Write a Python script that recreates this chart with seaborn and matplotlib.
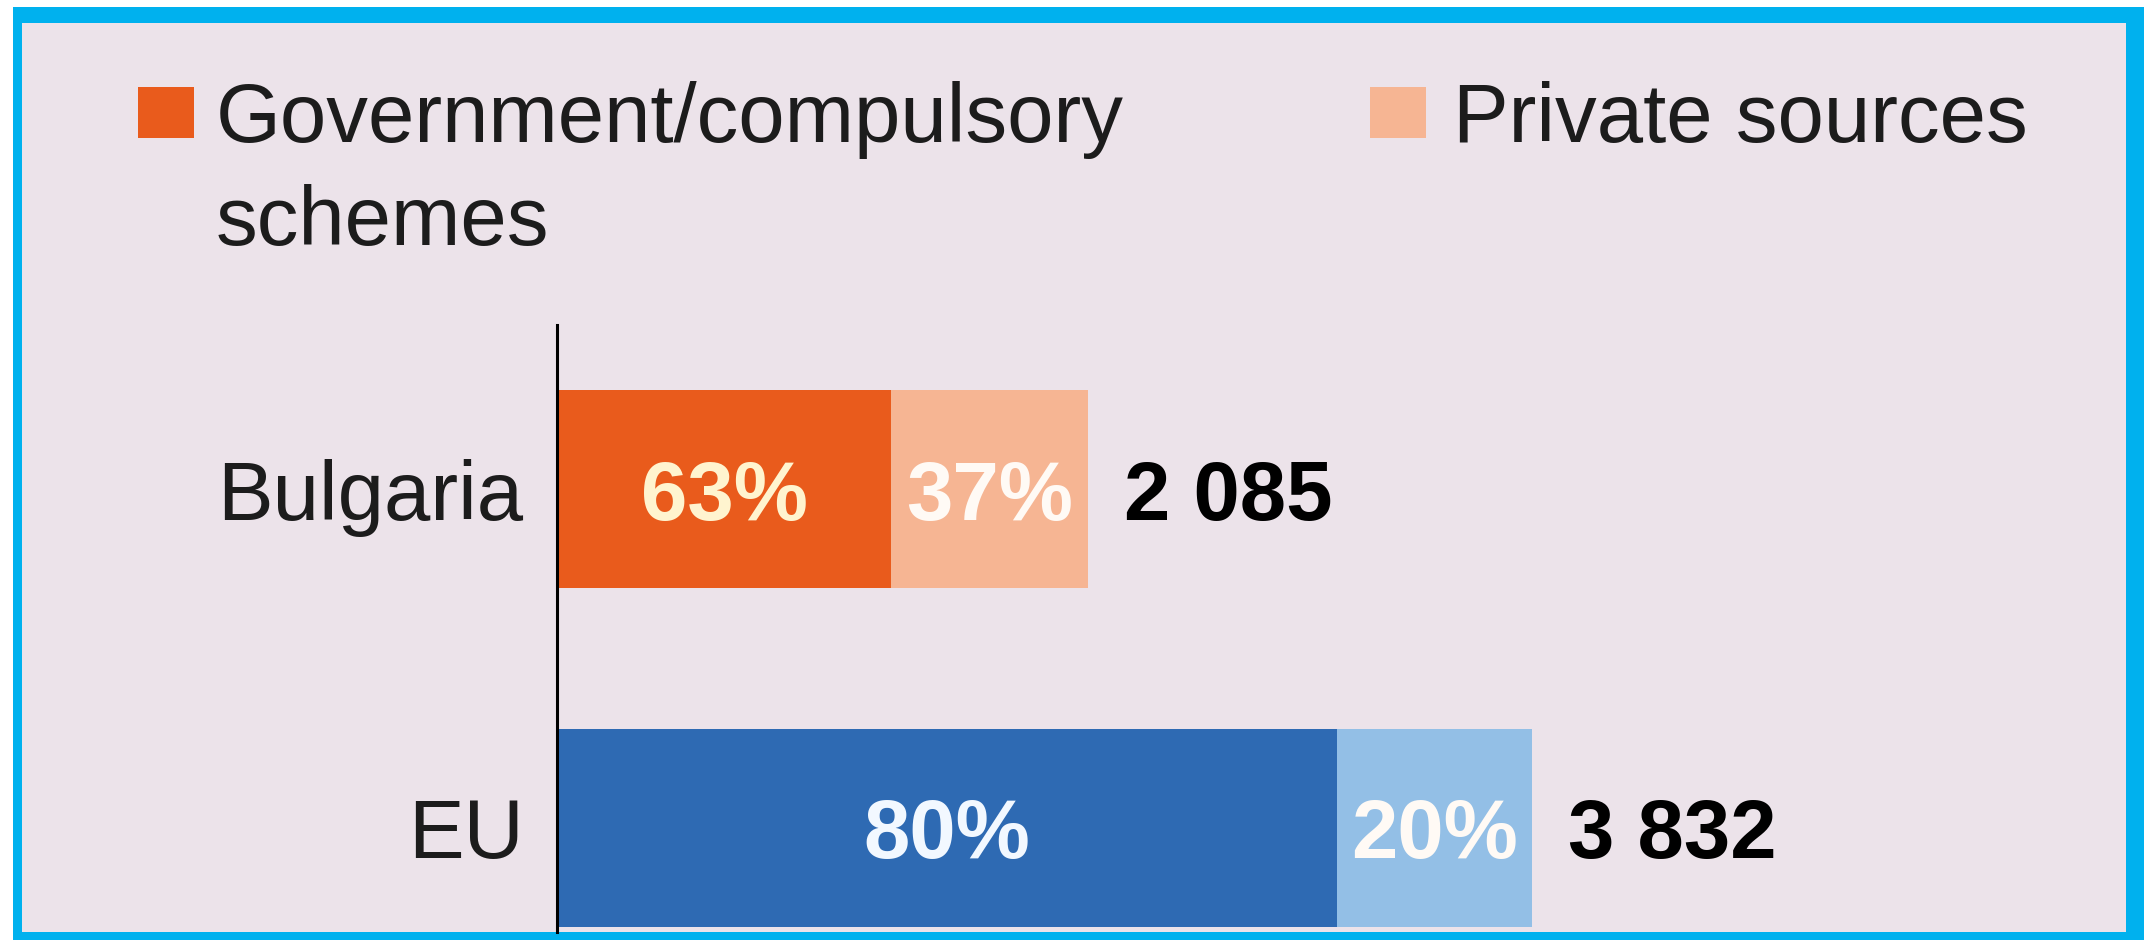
import pandas as pd
import seaborn as sns
import matplotlib.pyplot as plt
from matplotlib.patches import Rectangle

# data
countries = ["Bulgaria", "EU"]
totals = [2085, 3832]
gov_share = [63, 80]
private_share = [37, 20]
legend_labels = ["Government/compulsory\nschemes", "Private sources"]

gov_colors = ["#e95b1c", "#2e6ab3"]
private_colors = ["#f6b593", "#93bfe6"]
pct_colors = ["#fff4cf", "#f2f8ff"]
BG = "#ece3ea"
FRAME = "#00b1ee"
INK = "#1c1c1c"

W, H = 2144, 940


def fx(px):
    return px / W


def fy(py):
    return 1 - py / H


sns.set_style("white")
plt.rcParams["font.family"] = ["Liberation Sans", "DejaVu Sans"]

fig = plt.figure(figsize=(W / 100, H / 100), dpi=100, facecolor="white")
# cyan frame + pink panel
fig.patches.append(Rectangle((fx(13), 0), 1, fy(7), transform=fig.transFigure,
                             fc=FRAME, ec="none", zorder=-3))
fig.patches.append(Rectangle((fx(22), fy(932)), fx(2126) - fx(22), fy(23) - fy(932),
                             transform=fig.transFigure, fc=BG, ec="none", zorder=-2))

ax = fig.add_axes([fx(557), fy(932), fx(2126) - fx(557), fy(325) - fy(932)])
ax.set_facecolor("none")

df = pd.DataFrame({
    "country": countries,
    "total": totals,
    "gov": [t * s / 100 for t, s in zip(totals, gov_share)],
})

sns.barplot(data=df, x="total", y="country", hue="country", palette=private_colors,
            saturation=1, width=0.587, legend=False, linewidth=0, ax=ax)
sns.barplot(data=df, x="gov", y="country", hue="country", palette=gov_colors,
            saturation=1, width=0.587, legend=False, linewidth=0, ax=ax)

ax.set_xlim(0, 6165)
ax.set_ylim(1.3068, -0.4838)
ax.set_xticks([])
ax.set_xlabel("")
ax.set_ylabel("")
for s in ["top", "right", "bottom"]:
    ax.spines[s].set_visible(False)
ax.spines["left"].set_color("black")
ax.spines["left"].set_linewidth(2.2)
ax.tick_params(axis="y", length=0, pad=24, labelsize=60, labelcolor=INK)

for i, (t, g, p) in enumerate(zip(totals, gov_share, private_share)):
    gv = t * g / 100
    ax.text(gv / 2, i, f"{g}%", ha="center", va="center_baseline", fontsize=60,
            fontweight="bold", color=pct_colors[i])
    ax.text(gv + (t - gv) / 2, i, f"{p}%", ha="center", va="center_baseline", fontsize=60,
            fontweight="bold", color="#fffaf5")
    ax.annotate(f"{t:,}".replace(",", " "), (t, i), xytext=(26, 0),
                textcoords="offset points", ha="left", va="center_baseline",
                fontsize=60, fontweight="bold", color="black")

# legend drawn by hand so the swatch sits on the first line
swatches = [(138, 216), (1370, 1453)]
for (sx, tx), col, lab in zip(swatches, [gov_colors[0], private_colors[0]], legend_labels):
    fig.patches.append(Rectangle((fx(sx), fy(138)), fx(sx + 56) - fx(sx), fy(87) - fy(138),
                                 transform=fig.transFigure, fc=col, ec="none"))
    for k, line in enumerate(lab.split("\n")):
        fig.text(fx(tx), fy(142 + 103 * k), line, fontsize=60, va="baseline", color=INK)

fig.savefig("out.png", dpi=100, facecolor=fig.get_facecolor())
